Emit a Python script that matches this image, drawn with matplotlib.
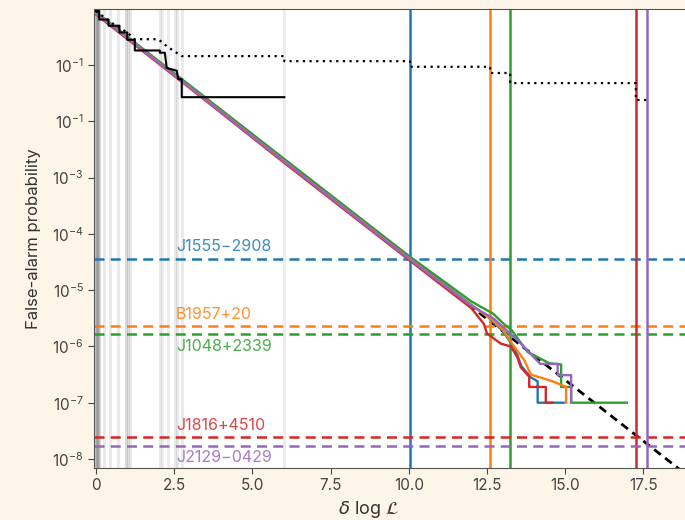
import matplotlib.pyplot as plt
import numpy as np

plt.rcParams["font.family"] = ["Inter", "DejaVu Sans"]
plt.rcParams["mathtext.default"] = "regular"

# Pulsars: detection statistic and false-alarm level
names = ["J1555\u22122908", "B1957+20", "J1048+2339", "J1816+4510", "J2129\u22120429"]
colors = ["#1f77b4", "#ff7f0e", "#2ca02c", "#d62728", "#9467bd"]
dlogl = [10.05, 12.6, 13.24, 17.27, 17.62]
fap = [3.65e-5, 2.3e-6, 1.64e-6, 2.45e-8, 1.73e-8]

# Simulated false-alarm curves per pulsar (delta logL, log10 probability)
curve_x = [
    [0, 3.0, 6.0, 10.0, 12.0, 12.5, 12.8, 13.0, 13.4, 13.6, 13.9, 14.12, 14.12, 14.95],
    [0, 3.0, 6.0, 10.0, 12.0, 12.6, 13.0, 13.3, 13.7, 13.9, 14.6, 15.03, 15.03],
    [0, 3.0, 6.0, 10.0, 12.0, 12.7, 13.0, 13.3, 13.8, 14.5, 14.87, 14.87, 15.19, 15.19, 16.97],
    [0, 3.0, 6.0, 10.0, 12.0, 12.4, 12.5, 12.94, 13.26, 13.47, 13.58, 13.85, 13.85, 14.38, 14.38, 14.6],
    [0, 3.0, 6.0, 10.0, 12.0, 12.7, 13.1, 13.5, 14.2, 14.76, 14.76, 15.19, 15.19],
]
curve_logp = [
    [-0.08, -1.38, -2.69, -4.42, -5.26, -5.46, -5.62, -5.72, -6.05, -6.35, -6.55, -6.62, -7.0, -7.0],
    [-0.08, -1.39, -2.70, -4.43, -5.27, -5.50, -5.70, -5.95, -6.25, -6.50, -6.62, -6.72, -7.0],
    [-0.06, -1.36, -2.66, -4.39, -5.20, -5.42, -5.58, -5.72, -6.10, -6.30, -6.32, -6.72, -6.72, -7.0, -7.0],
    [-0.10, -1.41, -2.73, -4.46, -5.32, -5.60, -5.77, -5.95, -6.00, -6.19, -6.37, -6.54, -6.72, -6.72, -7.0, -7.0],
    [-0.08, -1.40, -2.71, -4.44, -5.28, -5.50, -5.70, -5.90, -6.31, -6.31, -6.51, -6.51, -7.0],
]

# Trials-corrected (dotted) and single-search (solid) curves
dotted_x = [0, 0.5, 1.0, 1.23, 1.99, 2.3, 2.74, 6.02, 6.02, 10.04, 10.04, 12.6, 12.6, 13.24, 13.24, 17.26, 17.26, 17.6]
dotted_logp = [-0.04, -0.25, -0.42, -0.54, -0.54, -0.68, -0.84, -0.84, -0.93, -0.93, -1.03, -1.03, -1.14, -1.14, -1.32, -1.32, -1.62, -1.62]
black_x = [0, 0.1, 0.1, 0.4, 0.4, 0.75, 0.75, 1.0, 1.0, 1.24, 1.24, 2.04, 2.04, 2.2, 2.26, 2.58, 2.63, 2.74, 2.74, 6.02]
black_logp = [-0.04, -0.04, -0.19, -0.19, -0.3, -0.3, -0.42, -0.42, -0.55, -0.55, -0.74, -0.74, -0.78, -0.78, -1.05, -1.1, -1.25, -1.25, -1.57, -1.57]

# Expected exp(-x) trend, endpoints
trend_x = [0, 19.0]
trend_p = [0.83, 0.83 * 5.6e-9]

# Single-search detections (grey rules)
grey_x = [0.0, 0.03, 0.06, 0.1, 0.25, 0.45, 0.7, 0.95, 1.02, 1.08, 2.03, 2.12, 2.3, 2.52, 2.6, 2.74, 6.02]
grey_alpha = [0.4, 0.35, 0.3, 0.25, 0.15, 0.15, 0.15, 0.25, 0.2, 0.15, 0.15, 0.12, 0.12, 0.15, 0.15, 0.15, 0.12]

ytick_vals = [1e-1, 1e-2, 1e-3, 1e-4, 1e-5, 1e-6, 1e-7, 1e-8]
ytick_labels = ["$10^{-1}$", "$10^{-1}$", "$10^{-3}$", "$10^{-4}$", "$10^{-5}$",
                "$10^{-6}$", "$10^{-7}$", "$10^{-8}$"]
xtick_vals = [0, 2.5, 5.0, 7.5, 10.0, 12.5, 15.0, 17.5]
xtick_labels = ["0", "2.5", "5.0", "7.5", "10.0", "12.5", "15.0", "17.5"]

fig = plt.figure(figsize=(6.85, 5.2), dpi=100, facecolor="#fdf5e7")
ax = fig.add_axes([0.137, 0.1006, 0.873, 0.8824])
ax.set_facecolor("white")

for gx, ga in zip(grey_x, grey_alpha):
    ax.axvline(gx, color="0.45", lw=2.2, alpha=ga, zorder=1)

ax.plot(trend_x, trend_p, color="black", ls=(0, (3, 2)), lw=2.0, zorder=2)

# green underneath, purple and red on top of the bundle
draw_order = [2, 0, 1, 3, 4]
for i in draw_order:
    ax.plot(curve_x[i], np.power(10, curve_logp[i]), color=colors[i], lw=1.7, zorder=3)

ax.plot(black_x, np.power(10, black_logp), color="black", lw=1.5, zorder=5)
ax.plot(dotted_x, np.power(10, dotted_logp), color="black", ls=(0, (1, 2)), lw=1.6, zorder=5)

label_above = [True, True, False, True, False]
for name, c, xv, yv, above in zip(names, colors, dlogl, fap, label_above):
    ax.axvline(xv, color=c, lw=1.8, zorder=2)
    ax.axhline(yv, color=c, lw=1.8, ls=(0, (4, 2.5)), zorder=2)
    ax.annotate(name, (2.55, yv), xytext=(0, 3 if above else -3), textcoords="offset points",
                va="bottom" if above else "top", ha="left", color=c, alpha=0.85, fontsize=11.5)

ax.set_yscale("log")
ax.set_xlim(-0.07, 19.05)
ax.set_ylim(7e-9, 1.0)
ax.set_yticks(ytick_vals)
ax.set_yticklabels(ytick_labels)
ax.yaxis.set_minor_locator(plt.NullLocator())
ax.set_xticks(xtick_vals)
ax.set_xticklabels(xtick_labels)
ax.tick_params(labelsize=11, colors="#444444", length=4, width=0.8)
for s in ["left", "bottom", "top"]:
    ax.spines[s].set_color("#555555")
ax.spines["right"].set_visible(False)

ax.set_xlabel(r"$\mathit{\delta}$ log $\mathcal{L}$", fontsize=13, color="#333333")
ax.xaxis.set_label_coords(0.46, -0.068)
ax.set_ylabel("False-alarm probability", fontsize=12, color="#333333", labelpad=8)

fig.savefig("out.png", dpi=100, facecolor=fig.get_facecolor())
